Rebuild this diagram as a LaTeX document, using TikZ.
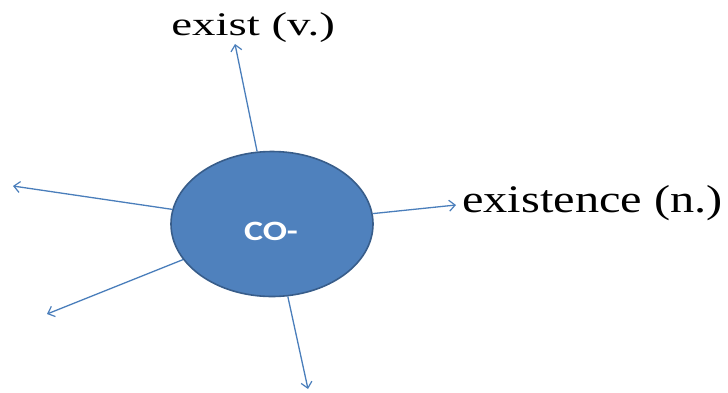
\documentclass[tikz,border=0pt]{standalone}
\usepackage{fontspec}
\setmainfont{Liberation Serif}
\newfontfamily\calib{Carlito}
\usetikzlibrary{shapes.geometric,arrows.meta}
\definecolor{blueA}{HTML}{4F81BD}
\definecolor{blueB}{HTML}{385D8A}
\definecolor{lineC}{HTML}{4A7EBB}
\tikzset{
  conn/.style={draw=lineC, line width=1.3pt, -{Straight Barb[length=6pt,width=11pt,line width=1.2pt]}},
  lbl/.style={inner sep=0pt, anchor=base west, text=black},
}
\begin{document}
\begin{tikzpicture}[x=1pt,y=-1pt]
\useasboundingbox (0,0) rectangle (728,392);
\coordinate (tu) at (235,44);
\coordinate (tr) at (456,205);
\coordinate (tul) at (13,186);
\coordinate (tll) at (47,314);
\coordinate (td) at (308,389);
\node[ellipse, fill=blueA, draw=blueB, line width=1.6pt, minimum width=202pt, minimum height=145pt, inner sep=0pt] (c) at (272,224) {};
\node[text=white, font=\calib\bfseries\fontsize{28}{30}\selectfont, xscale=1.28, inner sep=0pt] (t) at (271,231) {CO-};
\draw[conn] (c) -- (tu);
\draw[conn] (c) -- (tr);
\draw[conn] (c) -- (tul);
\draw[conn] (c) -- (tll);
\draw[conn] (c) -- (td);
\node[lbl, font=\fontsize{33}{36}\selectfont, xscale=1.42] (l1) at (171,35) {exist (v.)};
\node[lbl, font=\fontsize{39}{42}\selectfont, xscale=1.24] (l2) at (462,212) {existence (n.)};
\end{tikzpicture}
\end{document}
